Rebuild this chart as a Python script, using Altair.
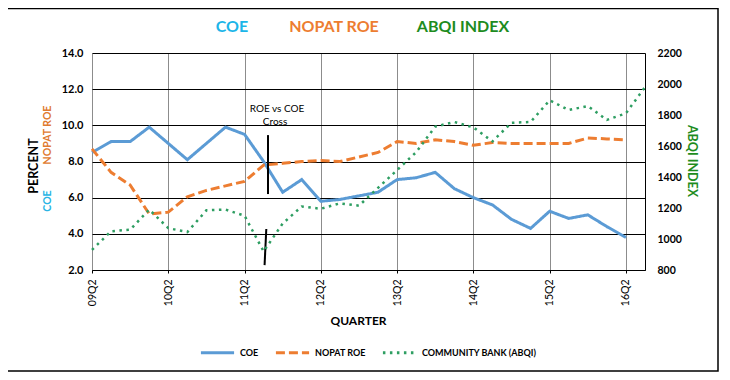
import altair as alt
import pandas as pd

quarters = ["09Q2", "09Q3", "09Q4", "10Q1", "10Q2", "10Q3", "10Q4", "11Q1",
            "11Q2", "11Q3", "11Q4", "12Q1", "12Q2", "12Q3", "12Q4", "13Q1",
            "13Q2", "13Q3", "13Q4", "14Q1", "14Q2", "14Q3", "14Q4", "15Q1",
            "15Q2", "15Q3", "15Q4", "16Q1", "16Q2", "16Q3"]
coe = [8.5, 9.1, 9.1, 9.9, 9.0, 8.1, 9.0, 9.9, 9.5, 8.0, 6.3, 7.0, 5.8, 5.9,
       6.1, 6.3, 7.0, 7.1, 7.4, 6.5, 6.0, 5.6, 4.8, 4.3, 5.25, 4.85, 5.05, 4.4, 3.8]
nopat_roe = [8.7, 7.4, 6.7, 5.1, 5.2, 6.05, 6.4, 6.65, 6.9, 7.8, 7.9, 8.0, 8.05,
             8.0, 8.25, 8.5, 9.1, 9.0, 9.2, 9.1, 8.9, 9.05, 9.0, 9.0, 9.0, 9.0,
             9.3, 9.25, 9.2]
abqi = [930, 1050, 1060, 1190, 1070, 1045, 1185, 1190, 1150, 920, 1100, 1210,
        1195, 1230, 1215, 1330, 1445, 1560, 1725, 1755, 1720, 1630, 1750, 1755,
        1895, 1832, 1858, 1768, 1811, 1980]

series_names = ["COE", "NOPAT ROE", "COMMUNITY BANK (ABQI)"]
series_colors = ["#5B9BD5", "#ED7D31", "#2E9E62"]
series_dashes = [[1, 0], [9, 4], [2.5, 4.5]]

left_ticks = [2, 4, 6, 8, 10, 12, 14]
right_ticks = [800, 1000, 1200, 1400, 1600, 1800, 2000, 2200]
x_label_idx = list(range(0, 29, 4))

header_texts = ["COE", "NOPAT ROE", "ABQI INDEX"]
header_colors = ["#1CB5E8", "#ED7D31", "#1E8C1E"]

# annotation: cross marker lines (quarter index, percent)
ann_x = [9.23, 9.14]
ann_x2 = [9.23, 9.05]
ann_y = [9.46, 4.27]
ann_y2 = [6.2, 2.27]
ann_text = ["ROE vs COE", "Cross"]
ann_text_x = [9.7, 9.6]
ann_text_y = [10.9, 10.2]

FONT = "Lato"

rows = []
for i, v in enumerate(coe):
    rows.append({"i": i, "series": "COE", "v": v})
for i, v in enumerate(nopat_roe):
    rows.append({"i": i, "series": "NOPAT ROE", "v": v})
left_df = pd.DataFrame(rows)
right_df = pd.DataFrame({"i": list(range(len(abqi))),
                         "series": ["COMMUNITY BANK (ABQI)"] * len(abqi),
                         "v": abqi})
rule_df = pd.DataFrame({"i": ann_x, "i2": ann_x2, "v": ann_y, "v2": ann_y2})
ann_df = pd.DataFrame({"i": ann_text_x, "v": ann_text_y, "t": ann_text})

label_expr = "[" + ",".join(f"'{q}'" for q in quarters) + "][datum.value]"

legend = alt.Legend(orient="none", legendX=107, legendY=281, direction="horizontal",
                    title=None, symbolType="stroke", symbolSize=1100,
                    symbolStrokeWidth=3, labelFont=FONT, labelFontSize=9,
                    labelFontWeight="bold", labelColor="black", labelOffset=4,
                    columnPadding=10, padding=0)
color = alt.Color("series:N", scale=alt.Scale(domain=series_names, range=series_colors),
                  legend=legend)
dash = alt.StrokeDash("series:N", scale=alt.Scale(domain=series_names, range=series_dashes),
                      legend=legend)

x_scale = alt.Scale(domain=[0, 29], nice=False, zero=False)
x_axis = alt.Axis(values=x_label_idx, labelExpr=label_expr, labelAngle=-90,
                  labelFont=FONT, labelFontSize=10.5, labelColor="black",
                  labelPadding=6, grid=True, gridColor="#8c8c8c",
                  tickColor="black", tickSize=3, domainColor="black",
                  labelOverlap=False,
                  title="QUARTER", titleFont=FONT, titleFontSize=12,
                  titleFontWeight="bold", titleColor="black",
                  titlePadding=10, titleX=266)
y_left_scale = alt.Scale(domain=[2, 14], nice=False, zero=False)
y_left_axis = alt.Axis(values=left_ticks, format=".1f", grid=True,
                       gridColor="black", domain=False, ticks=False,
                       labelOverlap=False,
                       labelPadding=9, labelFont=FONT, labelFontSize=11,
                       labelFontWeight="bold", labelColor="black", title=None)


def xe():
    return alt.X("i:Q", scale=x_scale, axis=x_axis)


def yle():
    return alt.Y("v:Q", scale=y_left_scale, axis=y_left_axis)


left_lines = alt.Chart(left_df).mark_line(strokeWidth=3).encode(
    x=xe(), y=yle(), color=color, strokeDash=dash)

rules = alt.Chart(rule_df).mark_rule(color="black", strokeWidth=2).encode(
    x=xe(), x2="i2:Q", y=yle(), y2="v2:Q")

ann = alt.Chart(ann_df).mark_text(font=FONT, fontSize=10, color="black").encode(
    x=xe(), y=yle(), text="t:N")

blank = alt.Data(values=[{}])


def ptext(txt, px, py, col, size, angle=0, weight="bold"):
    kw = dict(font=FONT, fontSize=size, fontWeight=weight, color=col,
              align="center", baseline="middle")
    if angle:
        kw["angle"] = angle
    return alt.Chart(blank).mark_text(**kw).encode(
        x=alt.value(px), y=alt.value(py), text=alt.value(txt))


headers = [ptext(header_texts[0], 140, -26, header_colors[0], 16),
           ptext(header_texts[1], 242, -26, header_colors[1], 16),
           ptext(header_texts[2], 371, -26, header_colors[2], 16)]
left_titles = [ptext("PERCENT", -58, 113, "black", 12.5, 270),
               ptext("NOPAT ROE", -44, 82, "#E07B30", 10.5, 270),
               ptext("COE", -44, 148, "#2AB4E4", 10.5, 270)]

frame = alt.Chart(blank).mark_rect(filled=False, stroke="black", strokeWidth=1.5).encode(
    x=alt.value(-85), x2=alt.value(626), y=alt.value(-44.5), y2=alt.value(318))

left_group = alt.layer(left_lines, rules, ann, frame, *headers, *left_titles)

right_line = alt.Chart(right_df).mark_line(strokeWidth=2.5).encode(
    x=xe(),
    y=alt.Y("v:Q", scale=alt.Scale(domain=[800, 2200], nice=False, zero=False),
            axis=alt.Axis(orient="right", values=right_ticks, format="d", grid=False,
                          domain=True, domainColor="black", ticks=False,
                          labelOverlap=False,
                          labelPadding=12, labelFont=FONT, labelFontSize=10.5,
                          labelFontWeight="bold", labelColor="black", title=None)),
    color=color, strokeDash=dash)

right_title = ptext("ABQI INDEX", 600, 108, "#1E8C1E", 12.5, 90)

chart = alt.layer(left_group, alt.layer(right_line, right_title)).resolve_scale(
    y="independent"
).properties(
    width=553, height=217,
    padding={"left": 84, "top": 45, "right": 77, "bottom": 102},
    autosize=alt.AutoSizeParams(type="none"),
).configure_view(stroke=None).configure(background="white")

chart.save("out.html", embed_options={"renderer": "svg", "actions": False})
